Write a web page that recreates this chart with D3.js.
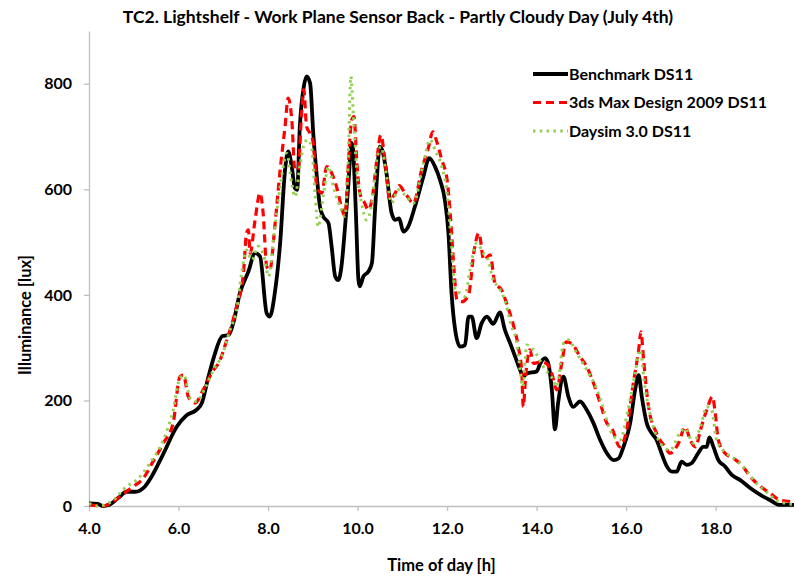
<!DOCTYPE html>
<html>
<head>
<meta charset="utf-8">
<script src="https://cdn.jsdelivr.net/npm/d3@7"></script>
<style>
  body { margin: 0; background: #fff; }
  text { font-family: Lato, "Open Sans", sans-serif; font-weight: bold; fill: #000; }
</style>
</head>
<body>
<div id="chart"></div>
<script>
// series data: hours and illuminance [lux]
const benchHours = [4.0,4.2,4.3,4.45,4.65,4.84,5.03,5.25,5.4,5.65,5.96,6.18,6.4,6.52,6.66,6.8,6.98,7.12,7.22,7.37,7.56,7.71,7.82,7.97,8.04,8.15,8.27,8.38,8.45,8.53,8.6,8.65,8.71,8.8,8.86,8.94,9.01,9.09,9.16,9.23,9.35,9.42,9.5,9.57,9.64,9.72,9.79,9.87,9.9,9.96,10.02,10.05,10.13,10.24,10.32,10.39,10.5,10.56,10.65,10.76,10.84,10.93,11.02,11.13,11.28,11.47,11.6,11.73,11.84,11.95,12.03,12.1,12.18,12.29,12.4,12.48,12.55,12.66,12.77,12.89,13.03,13.18,13.29,13.41,13.52,13.63,13.7,13.78,14.0,14.08,14.19,14.26,14.34,14.41,14.48,14.6,14.71,14.82,14.97,15.12,15.27,15.42,15.57,15.72,15.83,15.94,16.09,16.2,16.28,16.35,16.46,16.57,16.68,16.79,16.91,17.02,17.13,17.24,17.35,17.46,17.61,17.72,17.8,17.86,17.95,18.06,18.21,18.36,18.55,18.77,19.0,19.22,19.44,19.75];
const benchLux = [5,4,0,2,15,27,27,37,56,97,150,172,182,195,242,285,322,324,346,403,444,479,473,365,359,403,498,637,672,643,602,599,719,795,814,801,706,624,567,549,536,492,435,428,454,529,605,688,675,561,428,416,435,444,460,561,681,672,628,555,542,545,520,529,567,624,659,643,618,580,517,403,334,302,305,359,359,318,346,359,345,367,334,308,283,258,245,251,255,270,280,270,220,145,195,245,207,188,198,182,157,125,100,87,90,112,157,220,248,207,157,138,125,100,75,65,65,84,78,81,100,112,112,130,112,87,75,59,49,34,21,11,2,2];

const maxHours = [4.0,4.3,4.47,4.69,4.99,5.21,5.43,5.66,5.88,6.03,6.11,6.22,6.37,6.55,6.74,6.93,7.08,7.22,7.3,7.45,7.52,7.56,7.6,7.71,7.82,7.89,7.97,8.04,8.15,8.27,8.38,8.45,8.53,8.6,8.67,8.75,8.8,8.86,8.94,9.01,9.09,9.2,9.31,9.42,9.53,9.64,9.72,9.79,9.87,9.92,9.98,10.05,10.16,10.24,10.32,10.43,10.52,10.61,10.72,10.84,10.93,11.06,11.25,11.43,11.58,11.68,11.77,11.88,12.0,12.07,12.15,12.22,12.33,12.48,12.6,12.71,12.82,12.96,13.07,13.22,13.33,13.48,13.59,13.67,13.7,13.76,13.85,13.93,14.08,14.22,14.34,14.45,14.56,14.66,14.78,14.97,15.12,15.27,15.42,15.57,15.68,15.86,16.01,16.16,16.28,16.33,16.39,16.5,16.68,16.87,16.98,17.17,17.32,17.43,17.55,17.66,17.8,17.93,17.99,18.06,18.21,18.4,18.58,18.77,19.0,19.22,19.44,19.67,19.75];
const maxLux = [2,0,4,18,37,52,84,119,157,245,248,207,195,220,252,277,315,353,378,441,517,523,479,542,593,555,454,447,529,637,719,773,732,637,637,744,789,719,706,688,605,593,643,631,605,567,549,643,732,738,656,593,574,561,580,656,703,656,580,593,607,593,574,637,678,709,690,656,618,555,454,391,387,400,482,517,466,476,422,409,384,343,302,251,188,251,296,270,273,270,251,220,270,311,308,283,264,233,195,157,147,112,144,233,296,330,277,188,138,112,100,119,150,125,112,144,182,207,176,125,100,90,78,56,37,24,11,8,5];

const daysimHours = [4.0,4.2,4.35,4.54,4.84,5.06,5.36,5.66,5.88,6.03,6.12,6.26,6.41,6.59,6.78,6.96,7.15,7.3,7.41,7.52,7.64,7.78,7.93,8.01,8.12,8.27,8.42,8.53,8.6,8.71,8.79,8.88,8.97,9.05,9.12,9.23,9.35,9.46,9.61,9.72,9.79,9.85,9.9,9.98,10.09,10.2,10.32,10.43,10.52,10.65,10.76,10.91,11.05,11.25,11.47,11.62,11.73,11.88,12.0,12.1,12.18,12.29,12.4,12.51,12.66,12.81,12.92,13.03,13.14,13.29,13.44,13.56,13.63,13.69,13.78,13.93,14.15,14.37,14.45,14.6,14.71,14.9,15.12,15.35,15.5,15.64,15.86,16.04,16.2,16.31,16.42,16.61,16.83,16.98,17.2,17.32,17.5,17.66,17.8,17.91,18.02,18.24,18.46,18.68,18.91,19.13,19.35,19.57,19.75];
const daysimLux = [5,0,2,11,37,49,81,125,182,242,248,204,198,223,258,283,334,372,441,485,466,492,466,435,504,605,668,611,586,643,681,694,681,593,529,586,643,605,567,549,656,814,751,637,574,542,574,656,681,624,574,599,590,574,649,694,675,643,593,492,409,403,397,447,498,479,466,428,416,390,340,308,258,226,305,296,264,239,226,308,315,289,258,220,182,144,125,182,252,296,226,150,112,106,138,147,119,150,188,182,125,100,87,68,43,27,11,5,3];

const seriesNames = ["Benchmark DS11", "3ds Max Design 2009 DS11", "Daysim 3.0 DS11"];
const xTicks = [4, 6, 8, 10, 12, 14, 16, 18];
const yTicks = [0, 200, 400, 600, 800];

const width = 794, height = 579;
const plot = { left: 89, right: 794, top: 31, bottom: 506 };

const svg = d3.select("#chart").append("svg")
  .attr("width", width)
  .attr("height", height);

const x = d3.scaleLinear().domain([4, 19.75]).range([plot.left, plot.right]);
const y = d3.scaleLinear().domain([0, 900]).range([plot.bottom, plot.top]);

// axes
const axisColor = "#bfbfbf";

const xAxis = svg.append("g")
  .attr("transform", `translate(0,${plot.bottom})`)
  .call(d3.axisBottom(x).tickValues(xTicks).tickSize(5).tickPadding(12).tickSizeOuter(0)
    .tickFormat(d3.format(".1f")));
xAxis.select(".domain").attr("stroke", axisColor).attr("stroke-width", 1.3);
xAxis.selectAll(".tick line").attr("stroke", axisColor).attr("stroke-width", 1.3);
xAxis.selectAll("text").attr("font-size", "16px").attr("font-family", "Lato, sans-serif")
  .attr("font-weight", "bold").attr("fill", "#000");

const yAxis = svg.append("g")
  .attr("transform", `translate(${plot.left},0)`)
  .call(d3.axisLeft(y).tickValues(yTicks).tickSize(5).tickPadding(12).tickSizeOuter(0));
yAxis.select(".domain").attr("stroke", axisColor).attr("stroke-width", 1.3);
yAxis.selectAll(".tick line").attr("stroke", axisColor).attr("stroke-width", 1.3);
yAxis.selectAll("text").attr("font-size", "16px").attr("font-family", "Lato, sans-serif")
  .attr("font-weight", "bold").attr("fill", "#000");

// lines
const line = d3.line()
  .x(d => x(d[0]))
  .y(d => y(d[1]))
  .curve(d3.curveMonotoneX);

const series = [
  { name: seriesNames[0], data: d3.zip(benchHours, benchLux), color: "#000000", width: 3.8, dash: null },
  { name: seriesNames[1], data: d3.zip(maxHours, maxLux), color: "#ff0000", width: 3.2, dash: "8,5" },
  { name: seriesNames[2], data: d3.zip(daysimHours, daysimLux), color: "#92d050", width: 3, dash: "2.5,4.3" }
];

svg.append("defs").append("clipPath").attr("id", "clip")
  .append("rect")
  .attr("x", plot.left).attr("y", 0)
  .attr("width", plot.right - plot.left).attr("height", plot.bottom + 3);

svg.append("g").attr("clip-path", "url(#clip)")
  .selectAll("path")
  .data(series)
  .enter()
  .append("path")
  .attr("d", d => line(d.data))
  .attr("fill", "none")
  .attr("stroke", d => d.color)
  .attr("stroke-width", d => d.width)
  .attr("stroke-dasharray", d => d.dash)
  .attr("stroke-linejoin", "round");

// legend
const legend = svg.append("g").attr("transform", "translate(533,74)");
series.forEach(function(s, i) {
  const row = legend.append("g").attr("transform", `translate(0,${i * 28.5})`);
  row.append("line")
    .attr("x1", 0).attr("x2", 35)
    .attr("stroke", s.color)
    .attr("stroke-width", s.width)
    .attr("stroke-dasharray", s.dash);
  row.append("text")
    .attr("x", 36).attr("y", 5.5)
    .attr("font-size", "16px")
    .text(s.name);
});

// titles
svg.append("text")
  .attr("x", 398).attr("y", 23)
  .attr("text-anchor", "middle")
  .attr("font-size", "17.5px")
  .text("TC2. Lightshelf - Work Plane Sensor Back - Partly Cloudy Day (July 4th)");

svg.append("text")
  .attr("x", (plot.left + plot.right) / 2).attr("y", 571)
  .attr("text-anchor", "middle")
  .attr("font-size", "16.5px")
  .text("Time of day [h]");

svg.append("text")
  .attr("transform", "translate(31,315) rotate(-90)")
  .attr("text-anchor", "middle")
  .attr("font-size", "16.5px")
  .text("Illuminance [lux]");
</script>
</body>
</html>
